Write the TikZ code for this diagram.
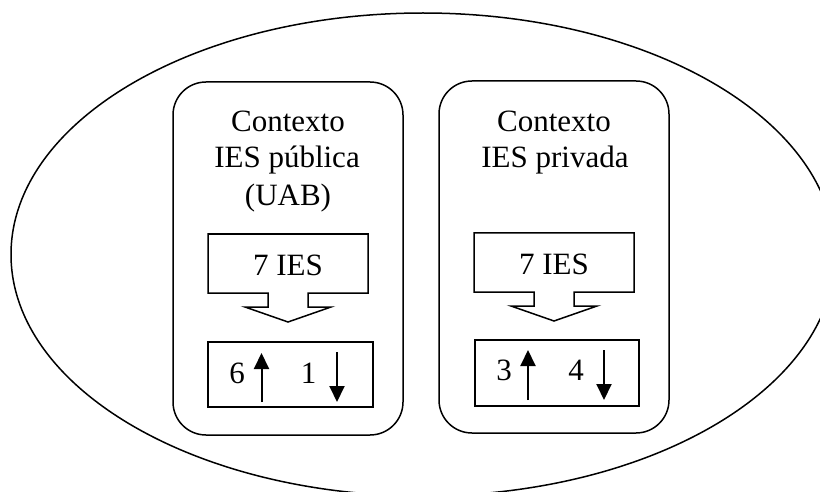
\documentclass[tikz,border=0pt]{standalone}
\usepackage{fontspec}
\setmainfont{Liberation Serif}
\usetikzlibrary{shapes.geometric,arrows.meta}
\tikzset{
  outline/.style={draw=black, line width=1.5pt},
  panel/.style={outline, rectangle, rounded corners=33pt, minimum width=230pt, inner sep=0pt},
  countbox/.style={outline, rectangle, inner sep=0pt},
  lbl/.style={anchor=base, inner sep=0pt, font=\fontsize{31}{37}\selectfont},
  updown/.style={line width=2pt, -{Triangle[width=15pt,length=16pt]}},
  pics/iesarrow/.style={code={
    \draw[outline, line join=miter] (-80,-29.5) -- (80,-29.5) -- (80,29.5) -- (20,29.5) -- (20,43.5)
      -- (43,43.5) -- (0,58.5) -- (-43,43.5) -- (-20,43.5) -- (-20,29.5) -- (-80,29.5) -- cycle;
  }}
}
\begin{document}
\begin{tikzpicture}[x=1pt, y=-1pt]
\useasboundingbox (0,0) rectangle (820,492);
\clip (0,0) rectangle (820,492);
% outer ellipse
\coordinate (outer) at (423,254.5);
\draw[outline] (outer) ellipse [x radius=412pt, y radius=241.5pt];
% panels
\node[panel, minimum height=353pt] (pL) at (288,258.5) {};
\node[panel, minimum height=352pt] (pR) at (554,257) {};
% panel titles
\node[lbl] (tL1) at (288,132) {Contexto};
\node[lbl] (tL2) at (287,168) {IES pública};
\node[lbl] (tL3) at (288,206) {(UAB)};
\node[lbl] (tR1) at (554,132) {Contexto};
\node[lbl] (tR2) at (555,168) {IES privada};
% 7 IES callouts
\pic at (288,263.5) {iesarrow};
\node[lbl] (iL) at (288,275) {7 IES};
\pic at (554,262.5) {iesarrow};
\node[lbl] (iR) at (554,274) {7 IES};
% count boxes
\node[countbox, minimum width=165pt, minimum height=65pt] (bL) at (290.5,374.5) {};
\node[countbox, minimum width=164pt, minimum height=66pt] (bR) at (557,373) {};
\node[lbl] (n6) at (237,383) {6};
\node[lbl] (n1) at (308.5,383) {1};
\node[lbl] (n3) at (504,380) {3};
\node[lbl] (n4) at (576,380) {4};
\coordinate (uL0) at (261.5,402); \coordinate (uL1) at (261.5,353);
\coordinate (dL0) at (337,352);   \coordinate (dL1) at (337,402);
\coordinate (uR0) at (528,400);   \coordinate (uR1) at (528,350);
\coordinate (dR0) at (604,350);   \coordinate (dR1) at (604,400);
\draw[updown] (uL0) -- (uL1);
\draw[updown] (dL0) -- (dL1);
\draw[updown] (uR0) -- (uR1);
\draw[updown] (dR0) -- (dR1);
\end{tikzpicture}
\end{document}
